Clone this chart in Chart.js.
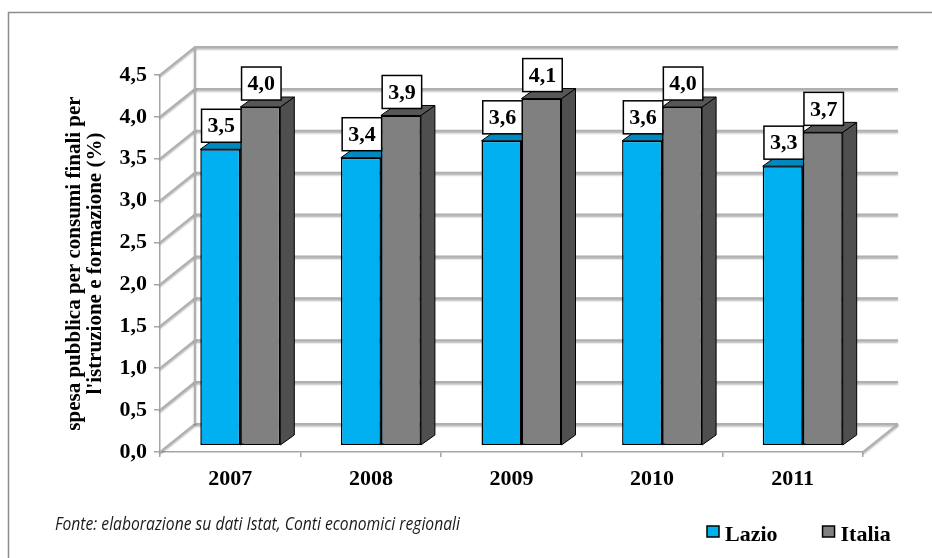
<!DOCTYPE html>
<html>
<head>
<meta charset="utf-8">
<script src="https://cdn.jsdelivr.net/npm/chart.js@4.4.0/dist/chart.umd.min.js"></script>
<style>
  html, body { margin: 0; padding: 0; background: #fff; }
  #wrap { width: 932px; height: 558px; }
</style>
</head>
<body>
<div id="wrap"><canvas id="chart" width="932" height="558"></canvas></div>
<script>
// data
const years = ['2007', '2008', '2009', '2010', '2011'];
const lazio = [3.5, 3.4, 3.6, 3.6, 3.3];
const italia = [4.0, 3.9, 4.1, 4.0, 3.7];
const seriesNames = ['Lazio', 'Italia'];
const yMin = 0, yMax = 4.5, yStep = 0.5;
const yTitle = ['spesa pubblica per consumi finali per', "l'istruzione e formazione (%)"];
const source = 'Fonte: elaborazione su dati Istat, Conti economici regionali';

const SERIF = '"Liberation Serif", "Times New Roman", serif';
// fake 3d: back wall offset and bar depth (pixels)
const WALL = { dx: 35, dy: -28 };
const BAR = { dx: 10, sx: 14, sy: -10 };
const fmt = v => v.toFixed(1).replace('.', ',');

const threeD = {
  id: 'threeD',
  beforeDraw(chart) {
    const { ctx, width, height } = chart;
    ctx.save();
    ctx.fillStyle = '#fff';
    ctx.fillRect(0, 0, width, height);
    ctx.strokeStyle = '#8c8c8c';
    ctx.lineWidth = 1.5;
    ctx.strokeRect(8.5, 12.5, width, height);
    ctx.restore();
  },
  beforeDatasetsDraw(chart) {
    const { ctx, chartArea: a, scales: { y } } = chart;
    const y0 = y.getPixelForValue(yMin);
    const yTop = y.getPixelForValue(yMax);

    // side wall, back wall, floor
    ctx.save();
    ctx.strokeStyle = '#b0b0b0';
    ctx.lineWidth = 2;
    ctx.shadowColor = 'rgba(0,0,0,0.35)';
    ctx.shadowBlur = 2;
    ctx.shadowOffsetY = 1.5;
    y.ticks.forEach(t => {
      const py = y.getPixelForValue(t.value);
      ctx.beginPath();
      ctx.moveTo(a.left, py);
      ctx.lineTo(a.left + WALL.dx, py + WALL.dy);
      ctx.lineTo(a.right + WALL.dx, py + WALL.dy);
      ctx.stroke();
    });
    ctx.beginPath();
    ctx.moveTo(a.right + WALL.dx, y0 + WALL.dy);
    ctx.lineTo(a.right, y0);
    ctx.stroke();
    ctx.beginPath();
    ctx.moveTo(a.left + WALL.dx, yTop + WALL.dy);
    ctx.lineTo(a.left + WALL.dx, y0 + WALL.dy);
    ctx.stroke();
    ctx.restore();

    // tops and sides of the bars, fronts come from chart.js
    ctx.save();
    ctx.strokeStyle = '#000';
    ctx.lineWidth = 1;
    chart.data.datasets.forEach((ds, di) => {
      chart.getDatasetMeta(di).data.forEach(bar => {
        const l = bar.x - bar.width / 2 + BAR.dx;
        const r = bar.x + bar.width / 2 + BAR.dx;
        const t = bar.y, b = bar.base;
        ctx.fillStyle = ds.sideColor;
        ctx.beginPath();
        ctx.moveTo(r, t);
        ctx.lineTo(r + BAR.sx, t + BAR.sy);
        ctx.lineTo(r + BAR.sx, b + BAR.sy);
        ctx.lineTo(r, b);
        ctx.closePath();
        ctx.fill();
        ctx.stroke();
        ctx.fillStyle = ds.topColor;
        ctx.beginPath();
        ctx.moveTo(l, t);
        ctx.lineTo(r, t);
        ctx.lineTo(r + BAR.sx, t + BAR.sy);
        ctx.lineTo(l + BAR.sx, t + BAR.sy);
        ctx.closePath();
        ctx.fill();
        ctx.stroke();
      });
    });
    ctx.restore();

    ctx.save();
    ctx.translate(BAR.dx, 0);
  },
  afterDatasetsDraw(chart) {
    const { ctx } = chart;
    ctx.restore();

    // value boxes
    ctx.save();
    ctx.font = 'bold 22px ' + SERIF;
    ctx.textAlign = 'center';
    ctx.textBaseline = 'middle';
    chart.data.datasets.forEach((ds, di) => {
      chart.getDatasetMeta(di).data.forEach((bar, i) => {
        const txt = fmt(ds.data[i]);
        const w = ctx.measureText(txt).width + 12, h = 33;
        const cx = bar.x + BAR.dx + 1, bottom = bar.y - 7;
        ctx.fillStyle = '#fff';
        ctx.fillRect(cx - w / 2, bottom - h, w, h);
        ctx.strokeStyle = '#000';
        ctx.lineWidth = 1.5;
        ctx.strokeRect(cx - w / 2, bottom - h, w, h);
        ctx.fillStyle = '#000';
        ctx.fillText(txt, cx, bottom - h / 2 + 1);
      });
    });
    ctx.restore();
  },
  afterDraw(chart) {
    const { ctx } = chart;
    // legend
    ctx.save();
    let lx = 707;
    chart.data.datasets.forEach(ds => {
      ctx.fillStyle = ds.backgroundColor;
      ctx.fillRect(lx, 526, 12, 11);
      ctx.strokeStyle = '#000';
      ctx.lineWidth = 1.5;
      ctx.strokeRect(lx, 526, 12, 11);
      ctx.font = 'bold 22px ' + SERIF;
      ctx.fillStyle = '#000';
      ctx.textAlign = 'left';
      ctx.textBaseline = 'alphabetic';
      ctx.fillText(ds.label, lx + 18, 541);
      lx += 18 + ctx.measureText(ds.label).width + 45;
    });
    // source note
    ctx.font = 'italic 19px "Open Sans"';
    const tw = ctx.measureText(source).width;
    ctx.translate(55, 525);
    ctx.scale(405 / tw, 1);
    ctx.fillStyle = '#1a1a1a';
    ctx.textBaseline = 'middle';
    ctx.fillText(source, 0, 0);
    ctx.restore();
  }
};

new Chart(document.getElementById('chart'), {
  type: 'bar',
  data: {
    labels: years,
    datasets: [
      {
        label: seriesNames[0],
        data: lazio,
        backgroundColor: '#00b0f0',
        topColor: '#0088bf',
        sideColor: '#0077a8',
        borderColor: '#000',
        borderWidth: 1.5,
        borderSkipped: false,
        yAxisID: 'yb',
      },
      {
        label: seriesNames[1],
        data: italia,
        backgroundColor: '#808080',
        topColor: '#575757',
        sideColor: '#4f4f4f',
        borderColor: '#000',
        borderWidth: 1.5,
        borderSkipped: false,
        yAxisID: 'yb',
      },
    ],
  },
  options: {
    responsive: false,
    animation: false,
    devicePixelRatio: 1,
    layout: { padding: { left: 10, right: 0, top: 75, bottom: 0 } },
    categoryPercentage: 0.569,
    barPercentage: 1,
    plugins: {
      legend: { display: false },
      tooltip: { enabled: false },
    },
    scales: {
      x: {
        grid: { offset: true, drawOnChartArea: false, tickLength: 5, color: '#a6a6a6', lineWidth: 1.5 },
        border: { color: '#a6a6a6', width: 1.5 },
        ticks: { font: { family: SERIF, size: 22, weight: 'bold' }, color: '#000', padding: 9 },
        afterFit: s => { s.height = 106; },
      },
      y: {
        position: 'left',
        min: yMin,
        max: yMax,
        ticks: {
          stepSize: yStep,
          callback: v => fmt(v),
          font: { family: SERIF, size: 22, weight: 'bold' },
          color: '#000',
          padding: 7,
        },
        grid: { drawOnChartArea: false, tickLength: 6, color: '#a6a6a6', lineWidth: 1.5 },
        border: { color: '#a6a6a6', width: 1.5 },
        title: {
          display: true,
          text: yTitle,
          font: { family: SERIF, size: 21, weight: 'bold', lineHeight: 1 },
          color: '#000',
          padding: { top: 54, bottom: 0 },
        },
        afterFit: s => { s.width = 150; },
      },
      // bars sit a little deeper than the front axis plane
      yb: {
        position: 'right',
        min: -0.083,
        max: 4.379,
        ticks: { display: false },
        grid: { display: false },
        border: { display: false },
        afterFit: s => { s.width = 69; },
      },
    },
  },
  plugins: [threeD],
});
</script>
</body>
</html>
